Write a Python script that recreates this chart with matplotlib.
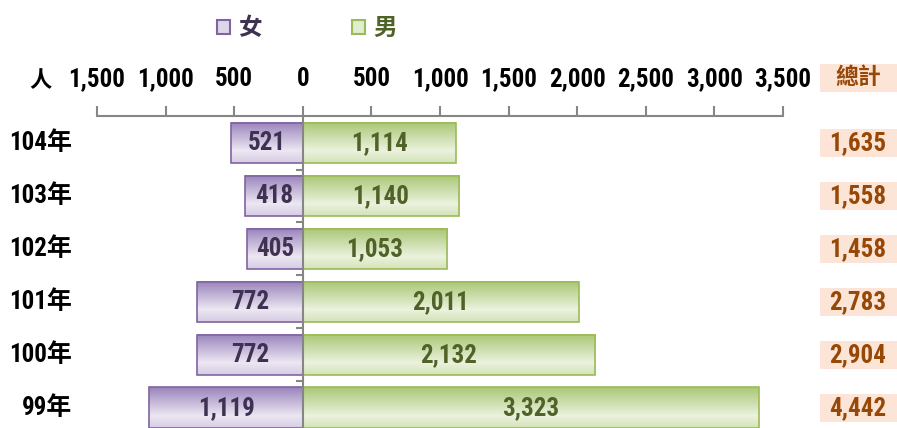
import numpy as np
import matplotlib.pyplot as plt
from matplotlib.patches import Rectangle, Patch
from matplotlib.colors import LinearSegmentedColormap
import matplotlib.transforms as mtransforms

years = ["104年", "103年", "102年", "101年", "100年", "99年"]
female = [521, 418, 405, 772, 772, 1119]
male = [1114, 1140, 1053, 2011, 2132, 3323]
totals = [1635, 1558, 1458, 2783, 2904, 4442]
xticks = [-1500, -1000, -500, 0, 500, 1000, 1500, 2000, 2500, 3000, 3500]

NUM = ["Roboto Condensed", "Noto Sans CJK TC", "DejaVu Sans"]
CJK = ["Noto Sans CJK TC", "DejaVu Sans"]
FS = 18

W, H = 897, 428
fig = plt.figure(figsize=(W / 100, H / 100), dpi=100)
ax = fig.add_axes([97 / W, 0, 686 / W, (428 - 116) / H])

y = np.arange(len(years))
bh = 0.77

fem_cmap = LinearSegmentedColormap.from_list("f", [(0, "#d6cce4"), (0.3, "#ece7f2"), (1, "#9a84bc")])
male_cmap = LinearSegmentedColormap.from_list("m", [(0, "#d4e3b8"), (0.3, "#ebf2de"), (1, "#aac775")])
grad = np.linspace(0, 1, 64).reshape(-1, 1)

fb = ax.barh(y, [-v for v in female], height=bh, color="none", edgecolor="#8064a2", linewidth=1.2, zorder=3)
mb = ax.barh(y, male, height=bh, color="none", edgecolor="#9bbb59", linewidth=1.2, zorder=3)
for bars, cmap in ((fb, fem_cmap), (mb, male_cmap)):
    for b in bars:
        x0, y0 = b.get_x(), b.get_y()
        ax.imshow(grad, cmap=cmap, aspect="auto", zorder=2,
                  extent=(x0, x0 + b.get_width(), y0, y0 + b.get_height()), origin="upper")
ax.set_xlim(-1500, 3500)
ax.set_ylim(5.38, -0.51)

for i in range(len(years)):
    ax.text(-female[i] / 2, i, f"{female[i]:,}", ha="center", va="center", fontsize=FS,
            fontweight="bold", color="#3f3151", family=NUM, zorder=4)
    ax.text(male[i] / 2, i, f"{male[i]:,}", ha="center", va="center", fontsize=FS,
            fontweight="bold", color="#4f6228", family=NUM, zorder=4)

# axes styling
for s in ["right", "bottom"]:
    ax.spines[s].set_visible(False)
ax.spines["top"].set_color("#868686")
ax.spines["top"].set_linewidth(1.5)
ax.spines["left"].set_position(("data", 0))
ax.spines["left"].set_color("#868686")
ax.spines["left"].set_linewidth(1.5)
ax.spines["left"].set_zorder(5)

ax.xaxis.tick_top()
ax.set_xticks(xticks)
ax.set_xticklabels([f"{abs(t):,}" for t in xticks], fontsize=FS, fontweight="bold", family=NUM)
ax.tick_params(axis="x", direction="out", length=7, width=1.5, color="#868686", pad=11)
ax.set_yticks(np.arange(len(years) - 1) + 0.5)
ax.set_yticklabels([])
ax.tick_params(axis="y", direction="out", length=5, width=1.5, color="#868686")

trans = mtransforms.blended_transform_factory(ax.transAxes, ax.transData)
lx = (72 - 97) / 686
for i, yr in enumerate(years):
    ax.text(lx, i, yr, ha="right", va="center", fontsize=FS, fontweight="bold",
            family=NUM, transform=trans)

ax.text((40 - 97) / 686, -1.17, "人", ha="center", va="center", fontsize=16, fontweight="bold",
        family=CJK, transform=trans)

# totals column
bx0 = (820 - 97) / 686
bw = (897 - 820) / 686
bxc = (858 - 97) / 686
for i, t in enumerate(totals):
    ax.add_patch(Rectangle((bx0, i - 0.26), bw, 0.52, transform=trans, facecolor="#fce4d6",
                           edgecolor="none", clip_on=False))
    ax.text(bxc, i, f"{t:,}", ha="center", va="center", fontsize=FS, fontweight="bold",
            color="#974806", family=NUM, transform=trans)
ax.add_patch(Rectangle((bx0, -1.5), bw, 0.53, transform=trans, facecolor="#fce4d6",
                       edgecolor="none", clip_on=False))
ax.text(bxc, -1.23, "總計", ha="center", va="center", fontsize=16.5, fontweight="bold",
        color="#974806", family=CJK, transform=trans)

handles = [Patch(facecolor="#ddd5e8", edgecolor="#8064a2", linewidth=1.5),
           Patch(facecolor="#e2ecd0", edgecolor="#9bbb59", linewidth=1.5)]
fig.legend(handles, ["女", "男"], loc="center", bbox_to_anchor=(307 / W, 1 - 28 / H), ncol=2,
           frameon=False, handlelength=0.55, handleheight=0.55, handletextpad=0.35,
           columnspacing=3.8, labelcolor=["#3f3151", "#4f6228"],
           prop={"family": CJK, "size": 17, "weight": "bold"})

fig.savefig("out.png", dpi=100)
